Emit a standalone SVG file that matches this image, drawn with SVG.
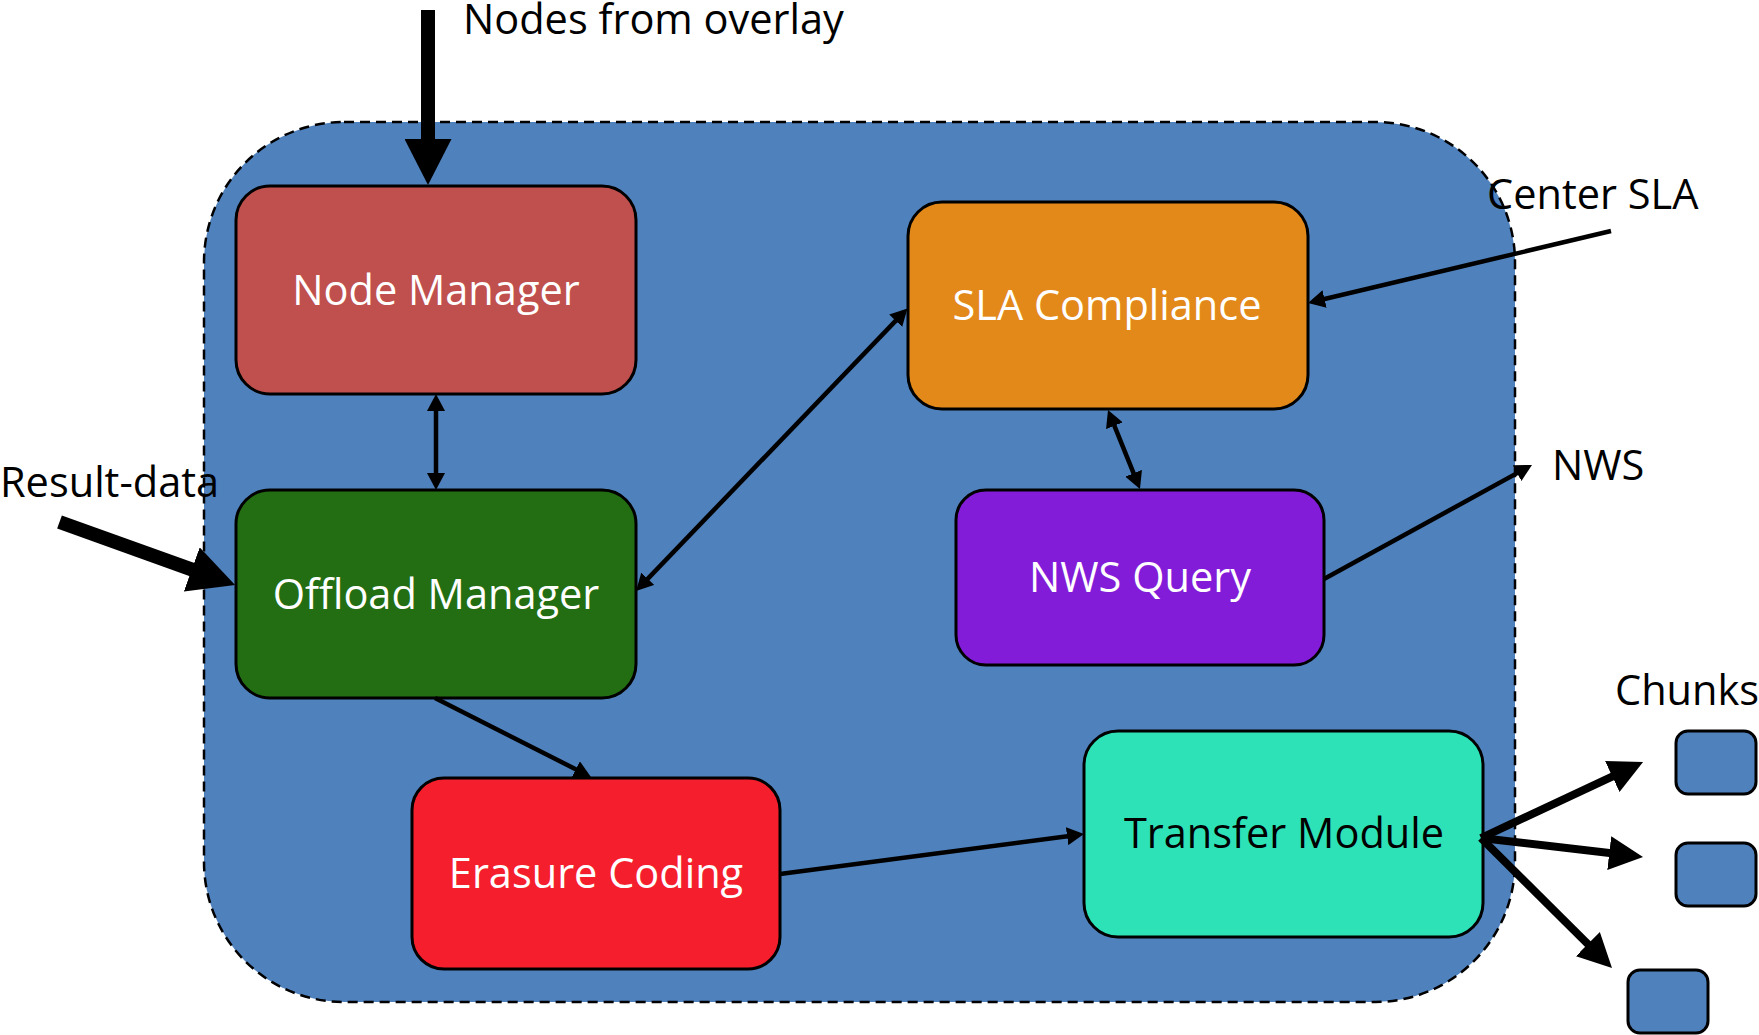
<svg xmlns="http://www.w3.org/2000/svg" width="1759" height="1035" viewBox="0 0 1759 1035">
  <style>
    .lbl { font-family: "Open Sans", "Liberation Sans", sans-serif; font-size: 41.5px; }
    .in { fill: #ffffff; text-anchor: middle; }
    .dark { fill: #000000; text-anchor: middle; }
    .out { fill: #000000; }
    .box { stroke: #000000; stroke-width: 3; }
    .thin { fill: none; stroke: #000000; stroke-width: 4.5; }
    .mid { fill: none; stroke: #000000; stroke-width: 8; }
    .thick { fill: none; stroke: #000000; stroke-width: 14; }
  </style>
  <defs>
    <marker id="head" viewBox="0 0 17 18" markerWidth="17" markerHeight="18" refX="12" refY="9" markerUnits="userSpaceOnUse" orient="auto-start-reverse">
      <path d="M0,0 L17,9 L0,18 z" fill="#000000"/>
    </marker>
    <marker id="midhead" viewBox="0 0 34 34" markerWidth="34" markerHeight="34" refX="24" refY="17" markerUnits="userSpaceOnUse" orient="auto">
      <path d="M0,0 L34,17 L0,34 z" fill="#000000"/>
    </marker>
    <marker id="bighead" viewBox="0 0 46 47" markerWidth="46" markerHeight="47" refX="30" refY="23.5" markerUnits="userSpaceOnUse" orient="auto">
      <path d="M0,0 L46,23.5 L0,47 z" fill="#000000"/>
    </marker>
  </defs>

  <!-- enclosing module boundary -->
  <g id="module">
    <rect x="204" y="122" width="1311" height="880" rx="140" ry="140" fill="#4F81BD" stroke="#000000" stroke-width="2.5" stroke-dasharray="10 6"/>
  </g>

  <g id="node-manager">
    <rect class="box" x="236" y="186" width="400" height="208" rx="34" fill="#C0504D"/>
    <text class="lbl in" x="436" y="305">Node Manager</text>
  </g>

  <g id="offload-manager">
    <rect class="box" x="236" y="490" width="400" height="208" rx="34" fill="#236E12"/>
    <text class="lbl in" x="436" y="609">Offload Manager</text>
  </g>

  <g id="sla-compliance">
    <rect class="box" x="908" y="202" width="400" height="207" rx="34" fill="#E2891A"/>
    <text class="lbl in" x="1107" y="320">SLA Compliance</text>
  </g>

  <g id="nws-query">
    <rect class="box" x="956" y="490" width="368" height="175" rx="30" fill="#821CD8"/>
    <text class="lbl in" x="1140" y="592">NWS Query</text>
  </g>

  <g id="erasure-coding">
    <rect class="box" x="412" y="778" width="368" height="191" rx="32" fill="#F51E2D"/>
    <text class="lbl in" x="596" y="888">Erasure Coding</text>
  </g>

  <g id="transfer-module">
    <rect class="box" x="1084" y="731" width="399" height="206" rx="34" fill="#2EE2B7"/>
    <text class="lbl dark" x="1284" y="848">Transfer Module</text>
  </g>

  <g id="chunks">
    <rect class="box" x="1676" y="731" width="80" height="63" rx="12" fill="#4F81BD"/>
    <rect class="box" x="1676" y="843" width="80" height="63" rx="12" fill="#4F81BD"/>
    <rect class="box" x="1628" y="970" width="80" height="63" rx="12" fill="#4F81BD"/>
    <text class="lbl out" x="1615" y="705">Chunks</text>
  </g>

  <g id="external-labels">
    <text class="lbl out" x="463" y="34">Nodes from overlay</text>
    <text class="lbl out" x="0" y="497">Result-data</text>
    <text class="lbl out" x="1487" y="209">Center SLA</text>
    <text class="lbl out" x="1552" y="480">NWS</text>
  </g>

  <g id="connectors">
    <!-- inputs into the module -->
    <line class="thick" x1="428" y1="10" x2="428" y2="169" marker-end="url(#bighead)"/>
    <line class="thick" x1="59.5" y1="522" x2="220" y2="579.6" marker-end="url(#bighead)"/>
    <!-- internal links -->
    <line class="thin" x1="436" y1="399" x2="436" y2="485" marker-start="url(#head)" marker-end="url(#head)"/>
    <line class="thin" x1="639.5" y1="587.4" x2="904" y2="312.1" marker-start="url(#head)" marker-end="url(#head)"/>
    <line class="thin" x1="1109.9" y1="414.6" x2="1138.1" y2="484.4" marker-start="url(#head)" marker-end="url(#head)"/>
    <line class="thin" x1="1611" y1="231" x2="1312.9" y2="301.8" marker-end="url(#head)"/>
    <line class="thin" x1="1324" y1="579" x2="1527.6" y2="467.4" marker-end="url(#head)"/>
    <line class="thin" x1="435" y1="698" x2="586.5" y2="774.7" marker-end="url(#head)"/>
    <line class="thin" x1="780" y1="874" x2="1079" y2="834.7" marker-end="url(#head)"/>
    <!-- chunk fan-out -->
    <line class="mid" x1="1481" y1="838" x2="1634" y2="766.3" marker-end="url(#midhead)"/>
    <line class="mid" x1="1481" y1="838" x2="1633.1" y2="855.8" marker-end="url(#midhead)"/>
    <line class="mid" x1="1481" y1="838" x2="1604.9" y2="961" marker-end="url(#midhead)"/>
  </g>
</svg>
